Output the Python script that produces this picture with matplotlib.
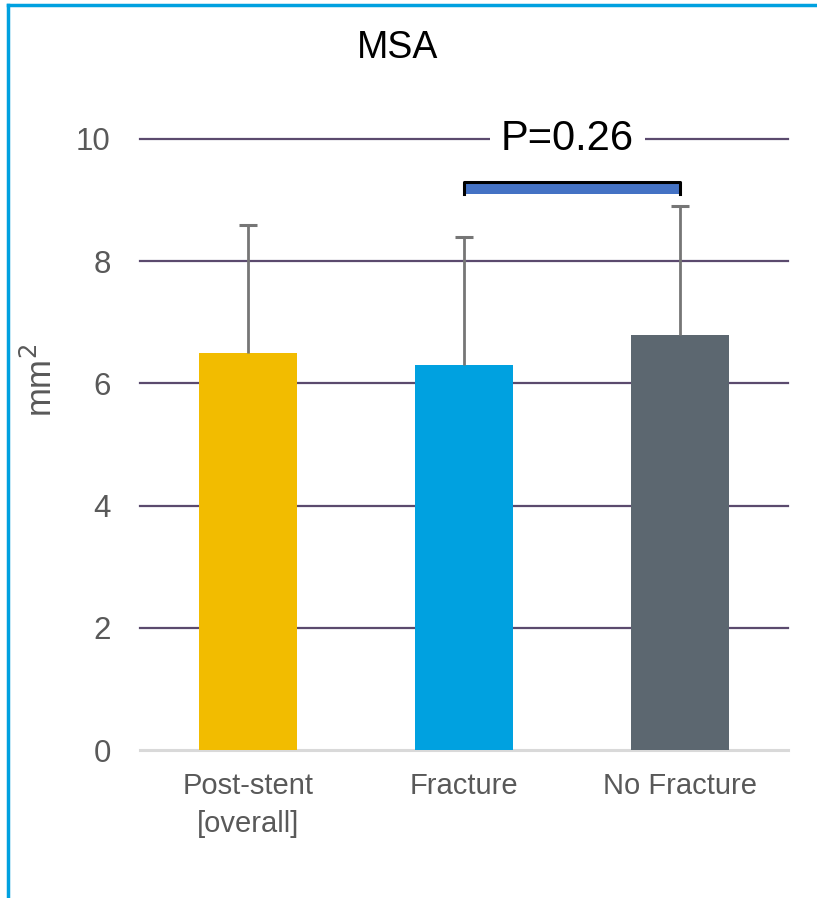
import matplotlib
matplotlib.use("Agg")
import matplotlib.pyplot as plt
from matplotlib.patches import Rectangle
from matplotlib.lines import Line2D

categories = ["Post-stent\n[overall]", "Fracture", "No Fracture"]
means = [6.5, 6.3, 6.8]
sd_upper = [2.1, 2.1, 2.1]
bar_colors = ["#F2BC00", "#00A1E0", "#5C6770"]
yticks = [0, 2, 4, 6, 8, 10]
p_label = "P=0.26"
bracket_span = (1, 2)
bracket_y = (9.1, 9.3)

plt.rcParams["font.family"] = ["Liberation Sans", "DejaVu Sans"]

fig = plt.figure(figsize=(8.17, 8.98), dpi=100)
ax = fig.add_axes([140 / 817, 1 - 750 / 898, 648 / 817, 611 / 898])

x = list(range(len(categories)))
ax.bar(x, means, width=0.45, color=bar_colors, zorder=3)

# one-sided (upper) error bars
tops = [m + s for m, s in zip(means, sd_upper)]
ax.vlines(x, means, tops, color="#767676", lw=2, zorder=4)
ax.plot(x, tops, ls="none", marker="_", ms=13, mew=2.2, color="#767676", zorder=4)

ax.set_xlim(-0.5, 2.5)
ax.set_ylim(0, 10)
ax.set_yticks(yticks)
ax.set_yticklabels([str(t) for t in yticks], fontsize=22.5, color="#595959")
ax.set_xticks(x)
ax.set_xticklabels(categories, fontsize=21, color="#595959", linespacing=1.45)
ax.tick_params(axis="x", length=0, pad=16)
ax.tick_params(axis="y", length=0, pad=21)

for t in yticks[1:]:
    ax.axhline(t, color="#5B4A6E", lw=1.6, zorder=1, clip_on=False)
ax.axhline(0, color="#D9D9D9", lw=2.2, zorder=2, clip_on=False)
for s in ax.spines.values():
    s.set_visible(False)

ax.set_ylabel("mm$^2$", fontsize=25, color="#595959")
ax.yaxis.set_label_coords(-0.125, 0.605)

# significance bracket
x0, x1 = bracket_span
y0, y1 = bracket_y
ax.add_patch(Rectangle((x0, y0), x1 - x0, y1 - y0, facecolor="#4472C4",
                       edgecolor="none", zorder=5, clip_on=False))
ax.add_line(Line2D([x0, x0, x1, x1], [y0, y1, y1, y0], color="black", lw=2.2,
                   zorder=6, clip_on=False))
ax.text((x0 + x1) / 2 - 0.02, 10, p_label, fontsize=30, ha="center", va="center",
        color="black", zorder=7,
        bbox=dict(facecolor="white", edgecolor="none", pad=8))

fig.text(398 / 817, 1 - 48 / 898, "MSA", fontsize=27, ha="center", va="center",
         color="black")

# outer frame (top and left edges)
fig.add_artist(Line2D([8 / 817, 8 / 817], [0, 1 - 5 / 898], color="#00A1E0", lw=2.5,
                      transform=fig.transFigure))
fig.add_artist(Line2D([8 / 817, 1], [1 - 5 / 898, 1 - 5 / 898], color="#00A1E0", lw=2.5,
                      transform=fig.transFigure))

fig.savefig("out.png", dpi=100)
